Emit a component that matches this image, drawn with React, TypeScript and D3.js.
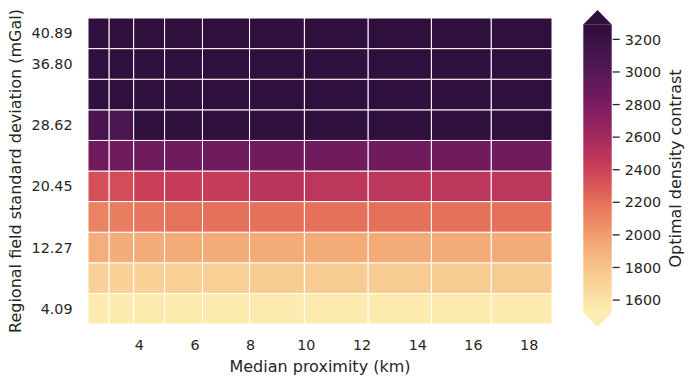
import * as React from 'react';
import * as d3 from 'd3';

// Column edges of the mesh (km)
const proximityEdges = [2.16, 2.92, 3.80, 4.91, 6.27, 7.96, 9.93, 12.22, 14.49, 16.64, 18.82];
// Row centres (mGal), bottom to top
const stdDevs = [4.09, 8.18, 12.27, 16.36, 20.45, 24.53, 28.62, 32.71, 36.80, 40.89];
const rowHalf = 2.045;

// Optimal density contrast, one row per std dev (bottom to top), one value per column
const contrastRows = [
    [1535, 1535, 1536, 1537, 1538, 1540, 1541, 1541, 1541, 1541],
    [1712, 1716, 1720, 1724, 1728, 1752, 1754, 1755, 1756, 1756],
    [1910, 1914, 1916, 1924, 1924, 1926, 1926, 1926, 1926, 1926],
    [2114, 2140, 2172, 2190, 2196, 2196, 2196, 2196, 2196, 2196],
    [2335, 2346, 2408, 2425, 2430, 2496, 2482, 2482, 2482, 2482],
    [2848, 2852, 2857, 2857, 2857, 2857, 2857, 2857, 2857, 2857],
    [3086, 3080, 3320, 3330, 3335, 3340, 3340, 3340, 3340, 3340],
    [3380, 3390, 3400, 3405, 3410, 3410, 3410, 3410, 3410, 3410],
    [3440, 3450, 3460, 3465, 3470, 3470, 3470, 3470, 3470, 3470],
    [3500, 3510, 3520, 3525, 3530, 3530, 3530, 3530, 3530, 3530],
];

const xTicks = [4, 6, 8, 10, 12, 14, 16, 18];
const yTicks = [4.09, 12.27, 20.45, 28.62, 36.80, 40.89];
const yTickLabels = ['4.09', '12.27', '20.45', '28.62', '36.80', '40.89'];
const cbarTicks = [1600, 1800, 2000, 2200, 2400, 2600, 2800, 3000, 3200];

const vmin = 1523;
const vmax = 3292;

// matter-like colormap stops
const cmapStops = [0, 0.157, 0.27, 0.383, 0.496, 0.609, 0.722, 0.835, 0.948, 1];
const cmapColors = ['#fdedb0', '#f7c48c', '#f19c6c', '#e5705a', '#cc4058', '#a4295f', '#7a1c61', '#561756', '#3a1246', '#2f0f3d'];

const W = 695;
const H = 384;
const plot = { left: 88, right: 552, top: 18, bottom: 324 };
const cbar = { left: 583.3, right: 611.7, top: 24.4, bottom: 312.6, tri: 14.4 };
const textColor = '#262626';
const font = '"DejaVu Sans", sans-serif';

export default function App() {
    const x = d3.scaleLinear()
        .domain([proximityEdges[0], proximityEdges[proximityEdges.length - 1]])
        .range([plot.left, plot.right]);
    const y = d3.scaleLinear()
        .domain([stdDevs[0] - rowHalf, stdDevs[stdDevs.length - 1] + rowHalf])
        .range([plot.bottom, plot.top]);
    const cmap = d3.scaleLinear<string>()
        .domain(cmapStops)
        .range(cmapColors)
        .interpolate(d3.interpolateRgb)
        .clamp(true);
    const norm = d3.scaleLinear().domain([vmin, vmax]).clamp(true);
    const color = (v: number) => cmap(norm(v));
    const cy = d3.scaleLinear().domain([vmin, vmax]).range([cbar.bottom, cbar.top]);
    const cmid = (cbar.left + cbar.right) / 2;

    const cells: JSX.Element[] = [];
    contrastRows.forEach((row, r) => {
        row.forEach((v, c) => {
            const x0 = x(proximityEdges[c]);
            const x1 = x(proximityEdges[c + 1]);
            const y0 = y(stdDevs[r] + rowHalf);
            const y1 = y(stdDevs[r] - rowHalf);
            cells.push(
                <rect key={`${r}-${c}`} x={x0} y={y0} width={x1 - x0} height={y1 - y0}
                    fill={color(v)} stroke="#fff" strokeWidth={1} />
            );
        });
    });

    const gradStops = d3.range(0, 1.0001, 0.02);

    return (
        <svg width={W} height={H} style={{ position: 'absolute', left: 0, top: 0 }}
            fontFamily={font} fill={textColor}>
            <rect width={W} height={H} fill="#fff" />
            <defs>
                <linearGradient id="cbarGrad" x1="0" y1="1" x2="0" y2="0">
                    {gradStops.map(t => <stop key={t} offset={t} stopColor={cmap(t)} />)}
                </linearGradient>
            </defs>
            <g>{cells}</g>

            {/* x axis */}
            {xTicks.map(t => (
                <text key={t} x={x(t)} y={350} textAnchor="middle" fontSize={14.3}>{t}</text>
            ))}
            <text x={(plot.left + plot.right) / 2} y={372} textAnchor="middle" fontSize={16}>
                Median proximity (km)
            </text>

            {/* y axis */}
            {yTicks.map((t, i) => (
                <text key={t} x={72.5} y={y(t)} dy="0.36em" textAnchor="end" fontSize={14.3}>{yTickLabels[i]}</text>
            ))}
            <text transform={`translate(21,${(plot.top + plot.bottom) / 2}) rotate(-90)`}
                textAnchor="middle" fontSize={16}>
                Regional field standard deviation (mGal)
            </text>

            {/* colorbar */}
            <rect x={cbar.left} y={cbar.top} width={cbar.right - cbar.left}
                height={cbar.bottom - cbar.top} fill="url(#cbarGrad)" />
            <path d={`M${cbar.left},${cbar.top}L${cbar.right},${cbar.top}L${cmid},${cbar.top - cbar.tri}Z`}
                fill={cmap(1)} />
            <path d={`M${cbar.left},${cbar.bottom}L${cbar.right},${cbar.bottom}L${cmid},${cbar.bottom + cbar.tri}Z`}
                fill={cmap(0)} />
            {cbarTicks.map(t => (
                <g key={t}>
                    <line x1={cbar.right + 1} x2={cbar.right + 8} y1={cy(t)} y2={cy(t)}
                        stroke={textColor} strokeWidth={1.3} />
                    <text x={cbar.right + 13} y={cy(t)} dy="0.36em" fontSize={14.3}>{t}</text>
                </g>
            ))}
            <text transform={`translate(681,${(cbar.top + cbar.bottom) / 2}) rotate(-90)`}
                textAnchor="middle" fontSize={16}>
                Optimal density contrast
            </text>
        </svg>
    );
}
